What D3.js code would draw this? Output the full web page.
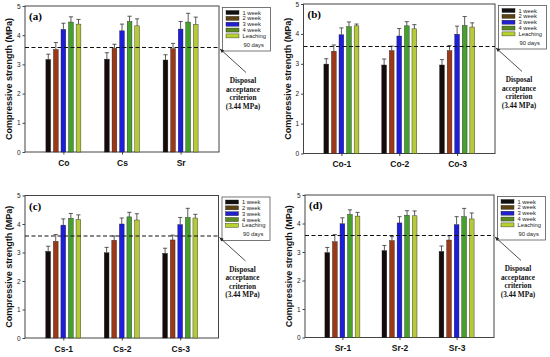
<!DOCTYPE html>
<html>
<head>
<meta charset="utf-8">
<script src="https://cdn.jsdelivr.net/npm/d3@7"></script>
<style>
body { margin: 0; background: #fff; }
svg { display: block; }
</style>
</head>
<body>
<script>
// series (legend order)
var seriesNames = ["1 week", "2 week", "3 week", "4 week", "Leaching 90 days"];
var yTicks = [0, 1, 2, 3, 4, 5];
var criterion = 3.58;

// categories per panel
var catsA = ["Co", "Cs", "Sr"];
var catsB = ["Co-1", "Co-2", "Co-3"];
var catsC = ["Cs-1", "Cs-2", "Cs-3"];
var catsD = ["Sr-1", "Sr-2", "Sr-3"];

// mean strength, one row per category, one column per series
var meanA = [[3.17, 3.51, 4.20, 4.45, 4.38], [3.18, 3.55, 4.15, 4.47, 4.32], [3.15, 3.54, 4.21, 4.45, 4.37]];
var meanB = [[2.99, 3.42, 3.97, 4.24, 4.27], [2.96, 3.44, 3.93, 4.27, 4.17], [2.96, 3.44, 3.99, 4.28, 4.23]];
var meanC = [[3.04, 3.39, 3.96, 4.20, 4.16], [2.99, 3.43, 4.00, 4.25, 4.14], [2.97, 3.44, 3.98, 4.23, 4.21]];
var meanD = [[2.98, 3.36, 3.99, 4.32, 4.26], [3.05, 3.40, 4.02, 4.29, 4.27], [3.02, 3.42, 3.96, 4.24, 4.16]];

// upper error (standard deviation)
var errA = [[0.18, 0.24, 0.21, 0.18, 0.16], [0.22, 0.14, 0.23, 0.18, 0.24], [0.18, 0.18, 0.26, 0.30, 0.25]];
var errB = [[0.18, 0.21, 0.23, 0.16, 0.06], [0.20, 0.15, 0.25, 0.14, 0.14], [0.18, 0.17, 0.27, 0.30, 0.14]];
var errC = [[0.18, 0.24, 0.22, 0.17, 0.16], [0.19, 0.15, 0.21, 0.16, 0.22], [0.18, 0.17, 0.25, 0.32, 0.13]];
var errD = [[0.18, 0.25, 0.21, 0.16, 0.13], [0.18, 0.14, 0.22, 0.16, 0.17], [0.19, 0.15, 0.28, 0.29, 0.21]];

var colors = ["#150b0b", "#9a3818", "#1d1ddc", "#46a02c", "#b5c93a"];
var legendColors = ["#111", "#5c4212", "#2020d0", "#5a8a20", "#b8d030"];

var svg = d3.select("body").append("svg")
    .attr("width", 550)
    .attr("height", 357);

var panels = [
    {label: "(a)", cats: catsA, mean: meanA, err: errA, L: 25, R: 219, T: 6, B: 152},
    {label: "(b)", cats: catsB, mean: meanB, err: errB, L: 303.5, R: 495, T: 4, B: 153.5},
    {label: "(c)", cats: catsC, mean: meanC, err: errC, L: 25, R: 218.5, T: 195.5, B: 338},
    {label: "(d)", cats: catsD, mean: meanD, err: errD, L: 305, R: 494, T: 195, B: 337.5}
];

panels.forEach(function(p) {
    var g = svg.append("g");

    var y = d3.scaleLinear().domain([0, 5]).range([p.B, p.T]);
    var x = d3.scalePoint().domain(p.cats).range([p.L, p.R]).padding(0.655);
    var xs = d3.scaleBand().domain(seriesNames).range([-17.5, 17.5]).paddingInner(0.37);

    // frame
    g.append("rect")
        .attr("x", p.L).attr("y", p.T)
        .attr("width", p.R - p.L).attr("height", p.B - p.T)
        .attr("fill", "none").attr("stroke", "#444").attr("stroke-width", 1);

    // y axis
    var ya = g.append("g")
        .attr("transform", "translate(" + p.L + ",0)")
        .call(d3.axisLeft(y).tickValues(yTicks).tickSize(2.5).tickPadding(2).tickFormat(d3.format("d")));
    ya.select(".domain").remove();
    ya.selectAll("text").attr("font-family", "Arial, Liberation Sans, sans-serif").attr("font-size", 6.5).attr("fill", "#222");
    ya.selectAll("line").attr("stroke", "#444");

    // x axis
    var xa = g.append("g")
        .attr("transform", "translate(0," + p.B + ")")
        .call(d3.axisBottom(x).tickSize(2.5).tickPadding(5));
    xa.select(".domain").remove();
    xa.selectAll("text").attr("font-family", "Arial, Liberation Sans, sans-serif")
        .attr("font-size", 8.5).attr("font-weight", "bold").attr("fill", "#111");
    xa.selectAll("line").attr("stroke", "#444");

    // y title
    g.append("text")
        .attr("transform", "translate(" + (p.L - 13) + "," + ((p.T + p.B) / 2) + ") rotate(-90)")
        .attr("text-anchor", "middle")
        .attr("font-family", "Arial, Liberation Sans, sans-serif")
        .attr("font-size", 9).attr("font-weight", "bold")
        .attr("fill", "#111")
        .text("Compressive strength (MPa)");

    // bars
    var rows = [];
    p.cats.forEach(function(c, i) {
        seriesNames.forEach(function(s, j) {
            rows.push({cat: c, s: s, j: j, v: p.mean[i][j], e: p.err[i][j]});
        });
    });

    g.append("g").selectAll("rect")
        .data(rows)
        .enter()
        .append("rect")
        .attr("x", function(d) { return x(d.cat) + xs(d.s); })
        .attr("y", function(d) { return y(d.v); })
        .attr("width", xs.bandwidth())
        .attr("height", function(d) { return y(0) - y(d.v); })
        .attr("fill", function(d) { return colors[d.j]; })
        .attr("stroke", "#222").attr("stroke-width", 0.4);

    // error bars
    var eb = g.append("g").attr("stroke", "#333").attr("stroke-width", 0.8);
    eb.selectAll("line.v")
        .data(rows)
        .enter()
        .append("line").attr("class", "v")
        .attr("x1", function(d) { return x(d.cat) + xs(d.s) + xs.bandwidth() / 2; })
        .attr("x2", function(d) { return x(d.cat) + xs(d.s) + xs.bandwidth() / 2; })
        .attr("y1", function(d) { return y(d.v); })
        .attr("y2", function(d) { return y(d.v + d.e); });
    eb.selectAll("line.c")
        .data(rows)
        .enter()
        .append("line").attr("class", "c")
        .attr("x1", function(d) { return x(d.cat) + xs(d.s) + 0.3; })
        .attr("x2", function(d) { return x(d.cat) + xs(d.s) + xs.bandwidth() - 0.3; })
        .attr("y1", function(d) { return y(d.v + d.e); })
        .attr("y2", function(d) { return y(d.v + d.e); });

    // criterion line
    g.append("line")
        .attr("x1", p.L).attr("x2", p.R)
        .attr("y1", y(criterion)).attr("y2", y(criterion))
        .attr("stroke", "#111").attr("stroke-width", 1.1)
        .attr("stroke-dasharray", "4,2.5");

    // panel label
    g.append("text")
        .attr("x", p.L + 4).attr("y", p.T + 14)
        .attr("font-family", "Times New Roman, Liberation Serif, serif")
        .attr("font-size", 11).attr("font-weight", "bold")
        .text(p.label);

    // legend
    var lg = g.append("g").attr("transform", "translate(" + (p.R + 3.5) + "," + (p.T + 1.5) + ")");
    lg.append("rect")
        .attr("width", 48).attr("height", 43.5)
        .attr("fill", "#fff").attr("stroke", "#555").attr("stroke-width", 0.8);
    var items = lg.selectAll("g.item")
        .data(seriesNames)
        .enter()
        .append("g").attr("class", "item")
        .attr("transform", function(d, i) { return "translate(3.5," + (5 + i * 5.85) + ")"; });
    items.append("rect")
        .attr("x", 0).attr("y", -2)
        .attr("width", 13).attr("height", 4)
        .attr("fill", function(d, i) { return legendColors[i]; })
        .attr("stroke", "#222").attr("stroke-width", 0.4);
    items.append("text")
        .attr("x", 16.5).attr("y", 2)
        .attr("font-family", "Arial, Liberation Sans, sans-serif")
        .attr("font-size", 5.8).attr("fill", "#222")
        .text(function(d) { return d === "Leaching 90 days" ? "Leaching" : d; });
    lg.append("text")
        .attr("x", 21).attr("y", 39.3)
        .attr("font-family", "Arial, Liberation Sans, sans-serif")
        .attr("font-size", 5.8).attr("fill", "#222")
        .text("90 days");

    // annotation arrow + text
    var ay = y(criterion);
    var ax0 = p.R + 1, ay0 = ay + 1.5, ax1 = p.R + 27, ay1 = ay + 25;
    g.append("line")
        .attr("x1", ax0).attr("y1", ay0).attr("x2", ax1).attr("y2", ay1)
        .attr("stroke", "#222").attr("stroke-width", 0.8);
    var ang = Math.atan2(ay1 - ay0, ax1 - ax0);
    var hl = 4, hw = 1.8;
    var bx = ax0 + hl * Math.cos(ang), by = ay0 + hl * Math.sin(ang);
    g.append("path")
        .attr("d", "M" + ax0 + "," + ay0 +
            "L" + (bx - hw * Math.sin(ang)) + "," + (by + hw * Math.cos(ang)) +
            "L" + (bx + hw * Math.sin(ang)) + "," + (by - hw * Math.cos(ang)) + "Z")
        .attr("fill", "#222");

    var lines = ["Disposal", "acceptance", "criterion", "(3.44 MPa)"];
    g.append("g").selectAll("text")
        .data(lines)
        .enter()
        .append("text")
        .attr("x", p.R + 24)
        .attr("y", function(d, i) { return ay + 36 + i * 8.4; })
        .attr("text-anchor", "middle")
        .attr("font-family", "Times New Roman, Liberation Serif, serif")
        .attr("font-size", 7.3).attr("font-weight", "bold")
        .attr("fill", "#111")
        .text(function(d) { return d; });
});
</script>
</body>
</html>
